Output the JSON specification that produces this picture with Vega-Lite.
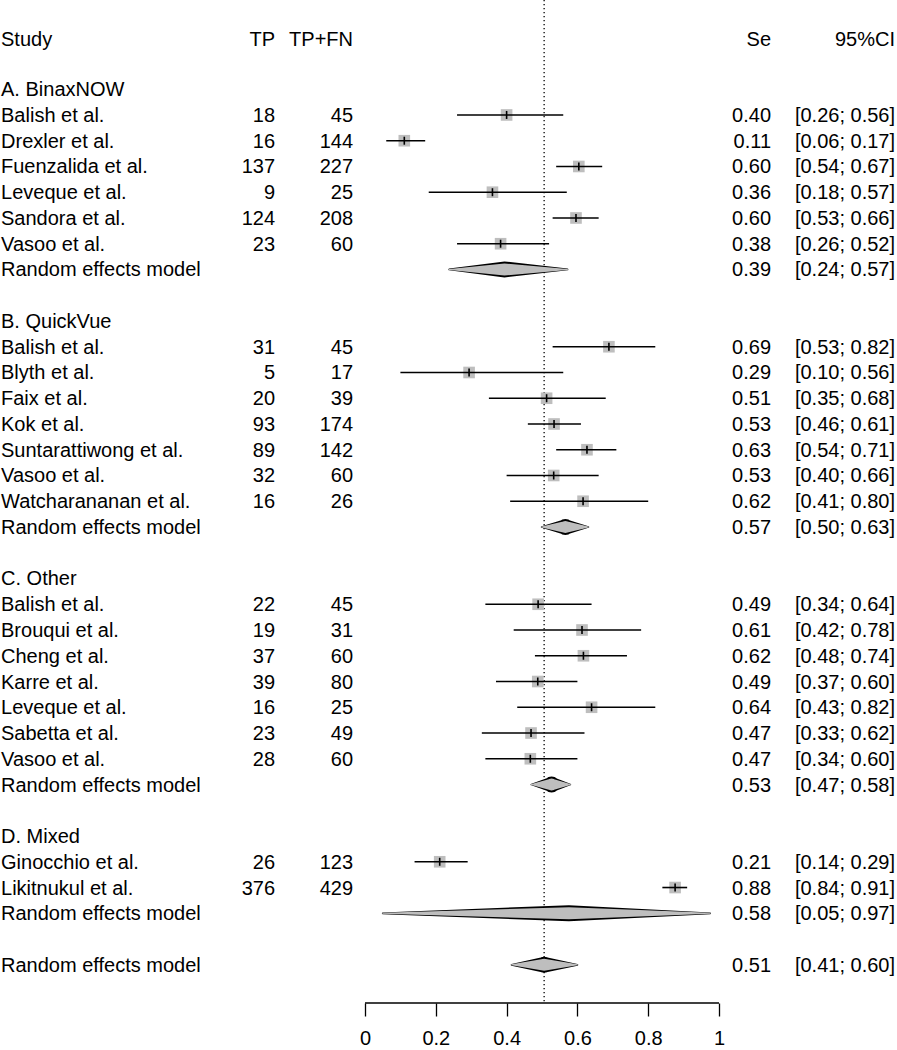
{
  "$schema": "https://vega.github.io/schema/vega-lite/v6.json",
  "width": 897,
  "height": 1003,
  "autosize": {"type": "none"},
  "padding": {"left": 0, "top": 0, "right": 0, "bottom": 47},
  "background": "white",
  "config": {
    "view": {"stroke": null},
    "axis": {"domain": false, "grid": false, "tickSize": 13, "tickColor": "black", "tickWidth": 1.3, "labelFont": "Liberation Sans", "labelFontSize": 20, "labelColor": "black", "labelPadding": 12, "labelFlush": false, "labelOverlap": false},
    "text": {"font": "Liberation Sans", "fontSize": 20, "baseline": "alphabetic", "dy": 7, "color": "black"}
  },
  "data": {"values": [
    {"row": -0.94, "kind": "header", "label": "Study", "tp": "TP", "n": "TP+FN", "ci": "95%CI"},
    {"row": 1, "kind": "group", "label": "A. BinaxNOW"},
    {"row": 2, "kind": "study", "label": "Balish et al.", "tp": 18, "n": 45, "est": 0.4, "lo": 0.26, "hi": 0.56, "ci": "[0.26; 0.56]"},
    {"row": 3, "kind": "study", "label": "Drexler et al.", "tp": 16, "n": 144, "est": 0.111, "lo": 0.06, "hi": 0.17, "ci": "[0.06; 0.17]"},
    {"row": 4, "kind": "study", "label": "Fuenzalida et al.", "tp": 137, "n": 227, "est": 0.604, "lo": 0.54, "hi": 0.67, "ci": "[0.54; 0.67]"},
    {"row": 5, "kind": "study", "label": "Leveque et al.", "tp": 9, "n": 25, "est": 0.36, "lo": 0.18, "hi": 0.57, "ci": "[0.18; 0.57]"},
    {"row": 6, "kind": "study", "label": "Sandora et al.", "tp": 124, "n": 208, "est": 0.596, "lo": 0.53, "hi": 0.66, "ci": "[0.53; 0.66]"},
    {"row": 7, "kind": "study", "label": "Vasoo et al.", "tp": 23, "n": 60, "est": 0.383, "lo": 0.26, "hi": 0.52, "ci": "[0.26; 0.52]"},
    {"row": 8, "kind": "model", "label": "Random effects model", "est": 0.394, "lo": 0.238, "hi": 0.572, "ci": "[0.24; 0.57]"},
    {"row": 10, "kind": "group", "label": "B. QuickVue"},
    {"row": 11, "kind": "study", "label": "Balish et al.", "tp": 31, "n": 45, "est": 0.689, "lo": 0.53, "hi": 0.82, "ci": "[0.53; 0.82]"},
    {"row": 12, "kind": "study", "label": "Blyth et al.", "tp": 5, "n": 17, "est": 0.294, "lo": 0.1, "hi": 0.56, "ci": "[0.10; 0.56]"},
    {"row": 13, "kind": "study", "label": "Faix et al.", "tp": 20, "n": 39, "est": 0.513, "lo": 0.35, "hi": 0.68, "ci": "[0.35; 0.68]"},
    {"row": 14, "kind": "study", "label": "Kok et al.", "tp": 93, "n": 174, "est": 0.534, "lo": 0.46, "hi": 0.61, "ci": "[0.46; 0.61]"},
    {"row": 15, "kind": "study", "label": "Suntarattiwong et al.", "tp": 89, "n": 142, "est": 0.627, "lo": 0.54, "hi": 0.71, "ci": "[0.54; 0.71]"},
    {"row": 16, "kind": "study", "label": "Vasoo et al.", "tp": 32, "n": 60, "est": 0.533, "lo": 0.4, "hi": 0.66, "ci": "[0.40; 0.66]"},
    {"row": 17, "kind": "study", "label": "Watcharananan et al.", "tp": 16, "n": 26, "est": 0.616, "lo": 0.41, "hi": 0.8, "ci": "[0.41; 0.80]"},
    {"row": 18, "kind": "model", "label": "Random effects model", "est": 0.566, "lo": 0.499, "hi": 0.631, "ci": "[0.50; 0.63]"},
    {"row": 20, "kind": "group", "label": "C. Other"},
    {"row": 21, "kind": "study", "label": "Balish et al.", "tp": 22, "n": 45, "est": 0.489, "lo": 0.34, "hi": 0.64, "ci": "[0.34; 0.64]"},
    {"row": 22, "kind": "study", "label": "Brouqui et al.", "tp": 19, "n": 31, "est": 0.613, "lo": 0.42, "hi": 0.78, "ci": "[0.42; 0.78]"},
    {"row": 23, "kind": "study", "label": "Cheng et al.", "tp": 37, "n": 60, "est": 0.617, "lo": 0.48, "hi": 0.74, "ci": "[0.48; 0.74]"},
    {"row": 24, "kind": "study", "label": "Karre et al.", "tp": 39, "n": 80, "est": 0.488, "lo": 0.37, "hi": 0.6, "ci": "[0.37; 0.60]"},
    {"row": 25, "kind": "study", "label": "Leveque et al.", "tp": 16, "n": 25, "est": 0.64, "lo": 0.43, "hi": 0.82, "ci": "[0.43; 0.82]"},
    {"row": 26, "kind": "study", "label": "Sabetta et al.", "tp": 23, "n": 49, "est": 0.469, "lo": 0.33, "hi": 0.62, "ci": "[0.33; 0.62]"},
    {"row": 27, "kind": "study", "label": "Vasoo et al.", "tp": 28, "n": 60, "est": 0.467, "lo": 0.34, "hi": 0.6, "ci": "[0.34; 0.60]"},
    {"row": 28, "kind": "model", "label": "Random effects model", "est": 0.527, "lo": 0.47, "hi": 0.58, "ci": "[0.47; 0.58]"},
    {"row": 30, "kind": "group", "label": "D. Mixed"},
    {"row": 31, "kind": "study", "label": "Ginocchio et al.", "tp": 26, "n": 123, "est": 0.211, "lo": 0.14, "hi": 0.29, "ci": "[0.14; 0.29]"},
    {"row": 32, "kind": "study", "label": "Likitnukul et al.", "tp": 376, "n": 429, "est": 0.876, "lo": 0.84, "hi": 0.91, "ci": "[0.84; 0.91]"},
    {"row": 33, "kind": "model", "label": "Random effects model", "est": 0.576, "lo": 0.05, "hi": 0.975, "ci": "[0.05; 0.97]"},
    {"row": 35, "kind": "overall", "label": "Random effects model", "est": 0.506, "lo": 0.414, "hi": 0.6, "ci": "[0.41; 0.60]"}
  ]},
  "resolve": {"scale": {"size": "independent"}},
  "layer": [
    {
      "transform": [{"filter": "datum.kind === 'overall'"}],
      "mark": {"type": "rule", "color": "black", "strokeWidth": 1.3, "strokeDash": [1.3, 2.7]},
      "encoding": {
        "x": {"field": "est", "type": "quantitative", "title": null, "scale": {"domain": [-1.0311, 1.5028], "nice": false, "zero": false},
          "axis": {"values": [0, 0.2, 0.4, 0.6, 0.8, 1], "format": "~g", "title": null}}
      }
    },
    {
      "data": {"values": [{}]},
      "mark": {"type": "rule", "color": "black", "strokeWidth": 1.3},
      "encoding": {
        "x": {"datum": 0, "type": "quantitative", "title": null, "axis": {"values": [0, 0.2, 0.4, 0.6, 0.8, 1], "format": "~g", "title": null}},
        "x2": {"datum": 1},
        "y": {"datum": 36.484, "type": "quantitative", "axis": null, "scale": {"domain": [-2.464, 36.484], "reverse": true, "nice": false, "zero": false}}
      }
    },
    {
      "transform": [{"filter": "datum.kind === 'study'"}],
      "mark": {"type": "point", "shape": "square", "filled": true, "opacity": 1, "color": "#bebebe", "size": 135, "strokeWidth": 0},
      "encoding": {
        "x": {"field": "est", "type": "quantitative", "title": null, "axis": {"values": [0, 0.2, 0.4, 0.6, 0.8, 1], "format": "~g", "title": null}},
        "y": {"field": "row", "type": "quantitative", "axis": null, "scale": {"domain": [-2.464, 36.484], "reverse": true, "nice": false, "zero": false}}
      }
    },
    {
      "transform": [{"filter": "datum.kind === 'study'"}],
      "mark": {"type": "rule", "color": "black", "strokeWidth": 1.6},
      "encoding": {
        "x": {"field": "lo", "type": "quantitative", "title": null, "axis": {"values": [0, 0.2, 0.4, 0.6, 0.8, 1], "format": "~g", "title": null}},
        "x2": {"field": "hi"},
        "y": {"field": "row", "type": "quantitative", "axis": null}
      }
    },
    {
      "transform": [{"filter": "datum.kind === 'study'"}],
      "mark": {"type": "tick", "orient": "vertical", "color": "black", "size": 8, "thickness": 1.6, "opacity": 1},
      "encoding": {
        "x": {"field": "est", "type": "quantitative", "title": null, "axis": {"values": [0, 0.2, 0.4, 0.6, 0.8, 1], "format": "~g", "title": null}},
        "y": {"field": "row", "type": "quantitative", "axis": null}
      }
    },
    {
      "transform": [{"filter": "datum.kind === 'model' || datum.kind === 'overall'"}, {"fold": ["lo", "est", "hi"], "as": ["k", "v"]}],
      "mark": {"type": "trail", "color": "black", "opacity": 1},
      "encoding": {
        "x": {"field": "v", "type": "quantitative", "title": null, "axis": {"values": [0, 0.2, 0.4, 0.6, 0.8, 1], "format": "~g", "title": null}},
        "y": {"field": "row", "type": "quantitative", "axis": null},
        "detail": {"field": "row", "type": "nominal"},
        "order": {"field": "v", "type": "quantitative"},
        "size": {"field": "k", "type": "ordinal", "legend": null, "scale": {"type": "ordinal", "domain": ["lo", "est", "hi"], "range": [1.7, 16, 1.7]}}
      }
    },
    {
      "transform": [{"filter": "datum.kind === 'model' || datum.kind === 'overall'"}, {"fold": ["lo", "est", "hi"], "as": ["k", "v"]}],
      "mark": {"type": "trail", "color": "#bebebe", "opacity": 1},
      "encoding": {
        "x": {"field": "v", "type": "quantitative", "title": null, "axis": {"values": [0, 0.2, 0.4, 0.6, 0.8, 1], "format": "~g", "title": null}},
        "y": {"field": "row", "type": "quantitative", "axis": null},
        "detail": {"field": "row", "type": "nominal"},
        "order": {"field": "v", "type": "quantitative"},
        "size": {"field": "k", "type": "ordinal", "legend": null, "scale": {"type": "ordinal", "domain": ["lo", "est", "hi"], "range": [0, 12, 0]}}
      }
    },
    {
      "mark": {"type": "text", "align": "left"},
      "encoding": {
        "x": {"datum": -1.0282, "type": "quantitative", "title": null, "axis": {"values": [0, 0.2, 0.4, 0.6, 0.8, 1], "format": "~g", "title": null}},
        "y": {"field": "row", "type": "quantitative", "axis": null},
        "text": {"field": "label", "type": "nominal"}
      }
    },
    {
      "transform": [{"filter": "isValid(datum.tp)"}],
      "mark": {"type": "text", "align": "right"},
      "encoding": {
        "x": {"datum": -0.2542, "type": "quantitative", "title": null, "axis": {"values": [0, 0.2, 0.4, 0.6, 0.8, 1], "format": "~g", "title": null}},
        "y": {"field": "row", "type": "quantitative", "axis": null},
        "text": {"field": "tp", "type": "nominal"}
      }
    },
    {
      "transform": [{"filter": "isValid(datum.n)"}],
      "mark": {"type": "text", "align": "right"},
      "encoding": {
        "x": {"datum": -0.0339, "type": "quantitative", "title": null, "axis": {"values": [0, 0.2, 0.4, 0.6, 0.8, 1], "format": "~g", "title": null}},
        "y": {"field": "row", "type": "quantitative", "axis": null},
        "text": {"field": "n", "type": "nominal"}
      }
    },
    {
      "transform": [{"filter": "datum.kind !== 'group'"}],
      "mark": {"type": "text", "align": "right"},
      "encoding": {
        "x": {"datum": 1.1469, "type": "quantitative", "title": null, "axis": {"values": [0, 0.2, 0.4, 0.6, 0.8, 1], "format": "~g", "title": null}},
        "y": {"field": "row", "type": "quantitative", "axis": null},
        "text": {"condition": {"test": "datum.kind === 'header'", "value": "Se"}, "field": "est", "type": "quantitative", "format": ".2f"}
      }
    },
    {
      "transform": [{"filter": "isValid(datum.ci)"}],
      "mark": {"type": "text", "align": "right"},
      "encoding": {
        "x": {"datum": 1.4972, "type": "quantitative", "title": null, "axis": {"values": [0, 0.2, 0.4, 0.6, 0.8, 1], "format": "~g", "title": null}},
        "y": {"field": "row", "type": "quantitative", "axis": null},
        "text": {"field": "ci", "type": "nominal"}
      }
    }
  ]
}
